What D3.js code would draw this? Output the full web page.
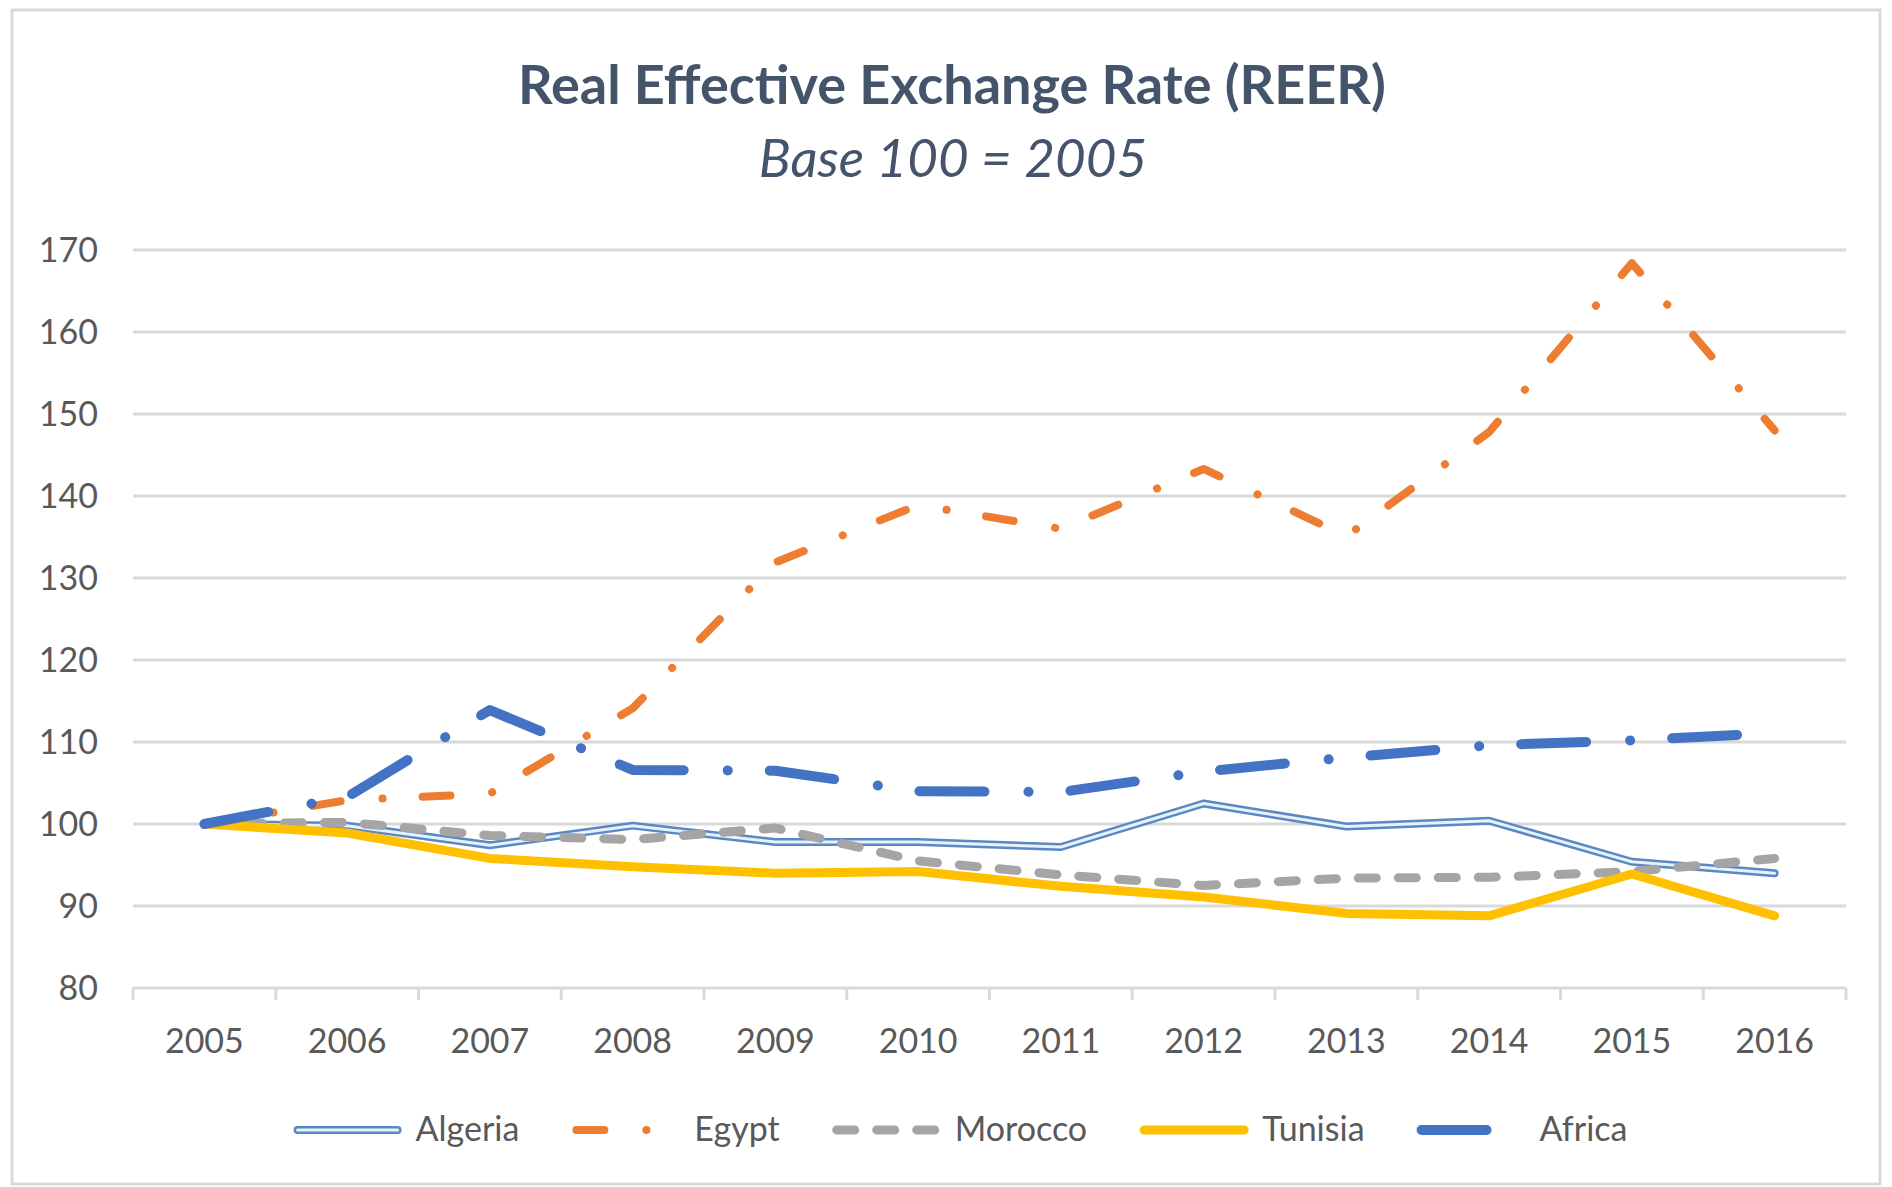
<html>
<head>
	<meta charset="utf-8">
	<title>REER</title>
	<script src="https://d3js.org/d3.v7.min.js"></script>
	<style>
		body {
			margin: 0;
			background: #fff;
		}
		.grid line {
			stroke: #d9d9d9;
			stroke-width: 3;
		}
		.tick-label {
			font-family: Lato, "Open Sans", sans-serif;
			font-size: 34px;
			fill: #595959;
		}
		.series path {
			fill: none;
			stroke-linejoin: round;
		}
	</style>
</head>
<body>
	<svg id="chart"></svg>
</body>
<script>

//
// Data
//

var years = ["2005", "2006", "2007", "2008", "2009", "2010", "2011", "2012", "2013", "2014", "2015", "2016"];
var yTicks = [80, 90, 100, 110, 120, 130, 140, 150, 160, 170];

var algeria = [100, 99.8, 97.4, 99.8, 97.8, 97.8, 97.2, 102.5, 99.7, 100.4, 95.4, 94.0];
var egypt   = [100, 102.9, 103.7, 114.1, 131.9, 138.9, 136.0, 143.3, 135.1, 147.8, 168.4, 148.0];
var morocco = [100, 100.2, 98.6, 98.1, 99.5, 95.5, 93.8, 92.5, 93.4, 93.5, 94.2, 95.8];
var tunisia = [100, 98.9, 95.8, 94.8, 94.0, 94.2, 92.4, 91.1, 89.1, 88.8, 93.9, 88.8];
var africa  = [100, 103.3, 113.9, 106.6, 106.5, 104.0, 103.9, 106.4, 108.1, 109.6, 110.2, 111.1];

// Draw order matters: later series sit on top
var series = [
	{ name: "Algeria", values: algeria },
	{ name: "Egypt", values: egypt },
	{ name: "Morocco", values: morocco },
	{ name: "Tunisia", values: tunisia },
	{ name: "Africa", values: africa }
];

// Stroke styles per series (double line for Algeria is two strokes)
var styles = {
	Algeria: [
		{ color: "#5b87c2", width: 8, dash: null, cap: "round" },
		{ color: "#e4f3ff", width: 3, dash: null, cap: "round" }
	],
	Egypt: [{ color: "#ed7d31", width: 8, dash: "28 42 0.1 40", cap: "round" }],
	Morocco: [{ color: "#a5a5a5", width: 9, dash: "18 22", cap: "round" }],
	Tunisia: [{ color: "#ffc000", width: 9, dash: null, cap: "round" }],
	Africa: [{ color: "#4472c4", width: 10, dash: "65 44 0.1 42", cap: "round" }]
};

//
// Svg setup
//

var W = 1892, H = 1187;
var svg = d3.select("#chart")
	.attr("width", W)
	.attr("height", H);

// Chart area border
svg.append("rect")
	.attr("x", 12)
	.attr("y", 10)
	.attr("width", 1868)
	.attr("height", 1174)
	.attr("fill", "#fff")
	.attr("stroke", "#d9d9d9")
	.attr("stroke-width", 3);

// Titles
svg.append("text")
	.attr("x", 952)
	.attr("y", 104)
	.attr("text-anchor", "middle")
	.style("font-family", "Lato, 'Open Sans', sans-serif")
	.style("font-weight", 700)
	.style("font-size", "54px")
	.attr("fill", "#44546a")
	.text("Real Effective Exchange Rate (REER)");

svg.append("text")
	.attr("x", 953)
	.attr("y", 177)
	.attr("text-anchor", "middle")
	.style("font-family", "Lato, 'Open Sans', sans-serif")
	.style("font-style", "italic")
	.style("font-size", "53px")
	.attr("fill", "#44546a")
	.text("Base 100 = 2005");

//
// Scales
//

var x = d3.scaleBand()
	.domain(years)
	.range([133, 1846]);

var y = d3.scaleLinear()
	.domain([80, 170])
	.range([988, 250]);

function xc(d) { return x(d) + x.bandwidth() / 2; }

// Grid
var gridG = svg.append("g").attr("class", "grid");
gridG.selectAll("line")
	.data(yTicks)
	.enter().append("line")
		.attr("x1", x.range()[0])
		.attr("x2", x.range()[1])
		.attr("y1", function(d) { return y(d); })
		.attr("y2", function(d) { return y(d); });

// X axis ticks between categories
var bounds = years.map(function(d) { return x(d); }).concat([x.range()[1]]);
gridG.selectAll(".xtick")
	.data(bounds)
	.enter().append("line")
		.attr("class", "xtick")
		.attr("x1", function(d) { return d; })
		.attr("x2", function(d) { return d; })
		.attr("y1", y(80))
		.attr("y2", y(80) + 12);

// Y labels
svg.append("g").selectAll("text")
	.data(yTicks)
	.enter().append("text")
		.attr("class", "tick-label")
		.attr("x", 98)
		.attr("y", function(d) { return y(d) + 12; })
		.attr("text-anchor", "end")
		.text(function(d) { return d; });

// X labels
svg.append("g").selectAll("text")
	.data(years)
	.enter().append("text")
		.attr("class", "tick-label")
		.attr("x", function(d) { return xc(d); })
		.attr("y", 1053)
		.attr("text-anchor", "middle")
		.text(function(d) { return d; });

//
// Lines
//

var line = d3.line()
	.x(function(d, i) { return xc(years[i]); })
	.y(function(d) { return y(d); });

var seriesG = svg.append("g");
series.forEach(function(s) {
	var g = seriesG.append("g").attr("class", "series");
	styles[s.name].forEach(function(st) {
		g.append("path")
			.datum(s.values)
			.attr("d", line)
			.attr("stroke", st.color)
			.attr("stroke-width", st.width)
			.attr("stroke-linecap", st.cap)
			.attr("stroke-dasharray", st.dash);
	});
});

//
// Legend
//

var legendY = 1130;
var symLen = 110;
var legendG = svg.append("g");
var items = legendG.selectAll(".item")
	.data(series)
	.enter().append("g")
		.attr("class", "item");

items.each(function(s) {
	var g = d3.select(this);
	styles[s.name].forEach(function(st) {
		g.append("line")
			.attr("x1", 5)
			.attr("x2", symLen - 5)
			.attr("y1", 0)
			.attr("y2", 0)
			.attr("stroke", st.color)
			.attr("stroke-width", st.width)
			.attr("stroke-linecap", st.cap)
			.attr("stroke-dasharray", st.dash);
	});
	g.append("text")
		.attr("class", "tick-label")
		.attr("x", 123)
		.attr("y", 11)
		.text(s.name);
});

// Lay items out side by side, centred
var cursor = 0;
var offsets = [];
items.each(function() {
	var w = 123 + d3.select(this).select("text").node().getComputedTextLength();
	offsets.push(cursor);
	cursor += w + 52;
});
var totalW = cursor - 52;
var startX = 960 - totalW / 2;
items.attr("transform", function(d, i) {
	return "translate(" + (startX + offsets[i]) + "," + legendY + ")";
});

</script>
</html>
